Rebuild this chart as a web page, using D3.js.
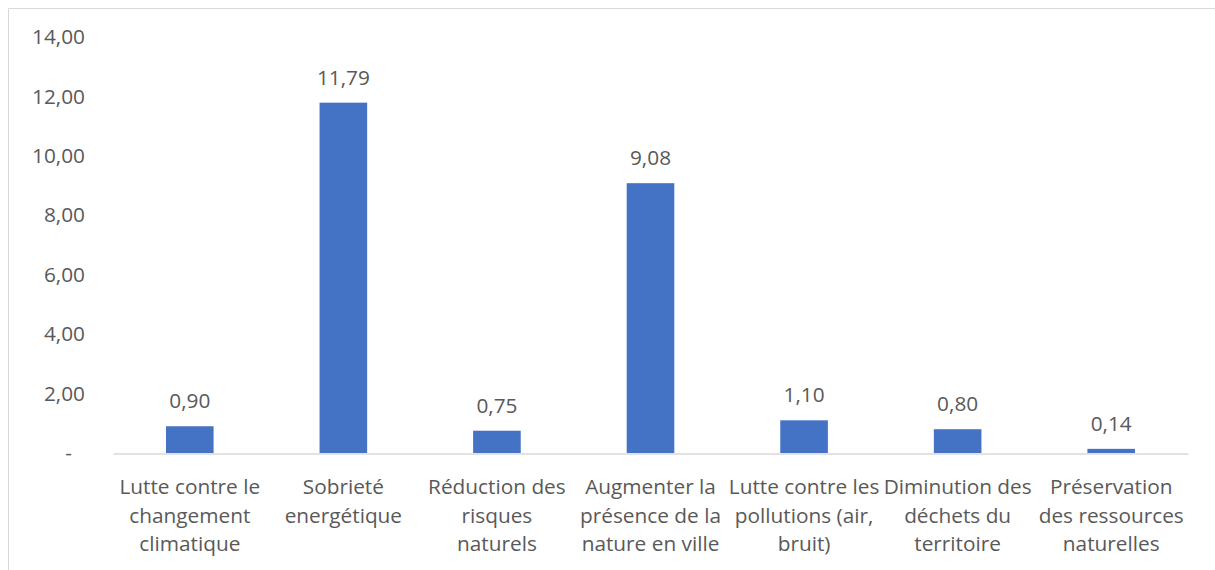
<!DOCTYPE html>
<html>
<head>
<meta charset="utf-8">
<script src="https://cdn.jsdelivr.net/npm/d3@7"></script>
<style>
  html, body { margin: 0; padding: 0; background: #fff; }
  svg { display: block; }
  text { font-family: "Open Sans", "Noto Sans", sans-serif; fill: #595959; }
</style>
</head>
<body>
<svg id="chart" width="1215" height="570"></svg>
<script>
// Categories (each label split into its displayed lines)
const categories = [
  ["Lutte contre le", "changement", "climatique"],
  ["Sobrieté", "energétique"],
  ["Réduction des", "risques", "naturels"],
  ["Augmenter la", "présence de la", "nature en ville"],
  ["Lutte contre les", "pollutions (air,", "bruit)"],
  ["Diminution des", "déchets du", "territoire"],
  ["Préservation", "des ressources", "naturelles"]
];
const values = [0.90, 11.79, 0.75, 9.08, 1.10, 0.80, 0.14];
const yTicks = [0, 2, 4, 6, 8, 10, 12, 14];

const svg = d3.select("#chart");
const W = 1215, H = 570;
const plot = { left: 113, right: 1188, top: 37, bottom: 453 };
const FS = 20.8;

const fmt = v => v === 0 ? "-" : d3.format(".2f")(v).replace(".", ",");

// Chart frame
svg.append("path")
  .attr("d", `M8.5,${H} L8.5,8.5 L${W},8.5`)
  .attr("fill", "none")
  .attr("stroke", "#d9d9d9")
  .attr("stroke-width", 1);

const x = d3.scaleBand()
  .domain(d3.range(categories.length))
  .range([plot.left, plot.right])
  .paddingInner(0.69)
  .paddingOuter(0.345);

const y = d3.scaleLinear().domain([0, 14]).range([plot.bottom, plot.top]);

// Y-axis tick labels (accounting style: zero shown as a dash, set in from the edge)
const yAxis = d3.axisLeft(y).tickValues(yTicks).tickFormat(fmt).tickSize(0).tickPadding(0);
const gy = svg.append("g").attr("transform", `translate(85,0)`).call(yAxis);
gy.select(".domain").remove();
gy.selectAll("text")
  .attr("font-size", FS)
  .attr("font-family", null)
  .attr("fill", "#595959")
  .attr("dx", d => d === 0 ? -13 : 0);

// Bars
svg.append("g").selectAll("rect")
  .data(values)
  .join("rect")
  .attr("x", (d, i) => x(i))
  .attr("y", d => y(d))
  .attr("width", x.bandwidth())
  .attr("height", d => y(0) - y(d))
  .attr("fill", "#4472c4");

// X axis baseline
const xAxis = d3.axisBottom(x).tickSize(0).tickFormat(() => "");
const gx = svg.append("g").attr("transform", `translate(0,${plot.bottom + 0.5})`).call(xAxis);
gx.select(".domain").attr("stroke", "#d9d9d9").attr("stroke-width", 1.3);

// Value labels
svg.append("g").selectAll("text")
  .data(values)
  .join("text")
  .attr("x", (d, i) => x(i) + x.bandwidth() / 2)
  .attr("y", d => y(d) - 18)
  .attr("text-anchor", "middle")
  .attr("font-size", FS)
  .text(fmt);

// Category labels
const cat = svg.append("g").selectAll("text")
  .data(categories)
  .join("text")
  .attr("x", (d, i) => x(i) + x.bandwidth() / 2)
  .attr("y", 494)
  .attr("text-anchor", "middle")
  .attr("font-size", FS);
cat.selectAll("tspan")
  .data(d => d)
  .join("tspan")
  .attr("x", function() { return this.parentNode.getAttribute("x"); })
  .attr("dy", (d, i) => i === 0 ? 0 : 28.5)
  .text(d => d);
</script>
</body>
</html>
